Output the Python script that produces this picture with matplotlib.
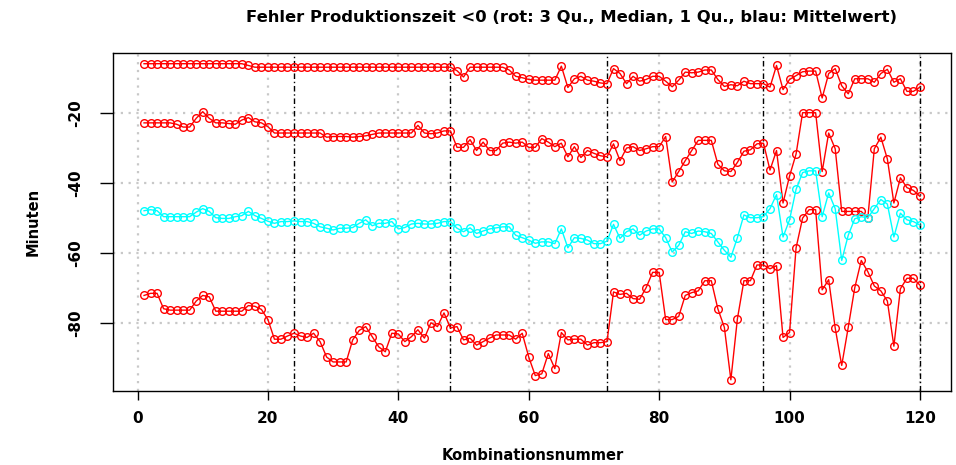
import matplotlib
matplotlib.use("Agg")
import matplotlib.pyplot as plt

# Kombinationsnummer 1..120
kombination = list(range(1, 121))

# 3. Quartil (oberste rote Linie)
q3 = [-6.0] * 16 + [-6.5] + [-7.0] * 31 + [
    -8.0, -9.8, -7.0, -7.0, -7.0, -7.0, -7.0, -7.0, -7.8, -9.6,
    -10.0, -10.5, -10.7, -10.7, -10.7, -10.7, -6.7, -12.8, -10.3, -9.6,
    -10.7, -11.0, -11.5, -11.7, -7.4, -8.8, -11.7, -9.6, -11.0, -10.5,
    -9.6, -9.6, -11.0, -12.6, -10.7, -8.4, -8.6, -8.4, -7.8, -7.8,
    -10.5, -12.5, -12.0, -12.3, -11.0, -11.7, -11.7, -11.7, -12.7, -6.5,
    -13.4, -10.5, -9.4, -8.3, -8.1, -8.1, -15.8, -8.8, -7.4, -12.3,
    -14.6, -10.3, -10.3, -10.3, -11.3, -8.8, -7.6, -11.3, -10.3, -13.9,
    -13.9, -12.7,
]

# Median
median = [
    -22.9, -22.9, -22.9, -22.9, -22.9, -23.3, -24.1, -24.1, -21.6, -19.7,
    -21.6, -22.9, -22.9, -23.1, -23.3, -22.1, -21.4, -22.6, -22.9, -24.0,
    -25.8, -25.8, -25.8, -25.8, -25.8, -25.8, -25.8, -25.8, -27.0, -26.8,
    -26.8, -26.8, -27.0, -26.8, -26.6, -26.2, -25.8, -25.8, -25.8, -25.8,
    -25.8, -25.8, -23.6, -25.8, -26.0, -25.8, -25.2, -25.2, -29.9, -29.9,
    -27.7, -30.8, -28.4, -30.8, -30.8, -28.7, -28.4, -28.7, -28.4, -29.9,
    -29.9, -27.4, -28.4, -29.7, -28.7, -32.6, -29.7, -32.8, -30.8, -31.6,
    -32.3, -32.6, -28.9, -33.7, -30.1, -29.7, -30.8, -30.3, -29.7, -29.7,
    -26.8, -39.8, -36.8, -33.7, -30.8, -27.9, -27.9, -27.9, -34.7, -36.6,
    -36.8, -34.2, -31.0, -30.6, -28.9, -28.7, -36.4, -30.8, -45.8, -38.1,
    -31.8, -20.0, -20.0, -20.0, -36.8, -25.8, -30.3, -48.2, -48.2, -48.2,
    -48.2, -50.1, -30.3, -27.0, -33.2, -45.8, -38.6, -41.4, -42.2, -43.9,
]

# Mittelwert (blau)
mittelwert = [
    -48.0, -47.7, -48.0, -49.7, -49.7, -49.7, -49.7, -49.7, -48.4, -47.4,
    -48.2, -50.0, -50.2, -50.2, -49.7, -49.4, -48.2, -49.4, -50.2, -51.0,
    -51.6, -51.1, -51.1, -50.9, -51.1, -51.1, -51.6, -52.6, -53.0, -53.5,
    -53.0, -53.0, -52.8, -51.6, -50.6, -52.3, -51.6, -51.6, -51.1, -53.2,
    -52.8, -51.8, -51.6, -51.8, -51.8, -51.6, -51.1, -51.1, -53.0, -54.0,
    -52.9, -54.5, -53.8, -53.2, -52.9, -52.6, -52.6, -55.0, -55.7, -56.4,
    -57.3, -56.9, -56.9, -57.4, -53.2, -58.6, -55.7, -55.9, -56.4, -57.4,
    -57.4, -56.7, -51.9, -55.9, -54.0, -53.2, -55.0, -53.8, -53.2, -53.2,
    -55.7, -59.8, -57.9, -54.0, -54.5, -53.8, -54.0, -54.5, -56.9, -59.3,
    -61.3, -55.7, -49.2, -50.0, -50.0, -49.7, -47.4, -43.4, -55.5, -50.6,
    -41.9, -37.1, -36.6, -36.6, -49.7, -42.9, -47.4, -62.2, -55.0, -50.3,
    -49.7, -50.0, -47.4, -44.8, -46.1, -55.5, -48.7, -50.6, -51.1, -52.1,
]

# 1. Quartil (unterste rote Linie)
q1 = [
    -72.2, -71.6, -71.6, -76.0, -76.4, -76.4, -76.4, -76.4, -73.8, -72.2,
    -72.6, -76.7, -76.7, -76.7, -76.7, -76.7, -75.1, -75.3, -76.2, -79.1,
    -84.7, -84.7, -83.8, -83.0, -83.8, -84.2, -83.0, -85.4, -89.8, -91.2,
    -91.2, -91.2, -84.9, -82.2, -81.1, -84.0, -86.9, -88.3, -83.0, -83.2,
    -85.4, -84.0, -82.0, -84.4, -80.0, -81.1, -77.2, -81.5, -81.1, -84.9,
    -84.4, -86.4, -85.4, -84.4, -83.5, -83.5, -83.5, -84.7, -83.0, -89.8,
    -95.1, -94.6, -88.8, -93.1, -82.8, -84.9, -84.7, -84.7, -86.4, -85.7,
    -85.7, -85.4, -71.2, -71.9, -71.6, -73.1, -73.3, -70.0, -65.6, -65.6,
    -79.1, -79.1, -78.2, -72.2, -71.4, -70.9, -68.0, -68.0, -76.0, -81.3,
    -96.3, -78.9, -68.0, -68.0, -63.5, -63.5, -64.6, -63.7, -84.2, -82.8,
    -58.6, -50.1, -47.7, -47.7, -70.6, -67.7, -81.5, -92.2, -81.3, -70.0,
    -62.2, -65.4, -69.5, -70.9, -73.8, -86.7, -70.3, -67.3, -67.3, -69.3,
]

block_grenzen = [24, 48, 72, 96, 120]
x_ticks = [0, 20, 40, 60, 80, 100, 120]
y_ticks = [-20, -40, -60, -80]

plt.rcParams["font.family"] = ["DejaVu Sans"]
plt.rcParams["font.weight"] = "bold"

fig = plt.figure(figsize=(9.56, 4.65), dpi=100)
ax = fig.add_axes([113 / 956, 1 - 391 / 465, 838 / 956, 338 / 465])

# Gitter (grau gepunktet) an den Achsenmarken
for xv in x_ticks:
    ax.axvline(xv, color="#c8c8c8", linestyle=(0, (1, 2.5)), linewidth=1.6, zorder=0)
for yv in y_ticks:
    ax.axhline(yv, color="#c8c8c8", linestyle=(0, (1, 2.5)), linewidth=1.6, zorder=0)

# Blockgrenzen (schwarz strichpunktiert)
for xv in block_grenzen:
    ax.axvline(xv, color="black", linestyle=(0, (4, 2, 1, 2)), linewidth=1.0, zorder=1)

style = dict(marker="o", markersize=5.5, markerfacecolor="none",
             markeredgewidth=1.0, linewidth=1.0, zorder=3)
ax.plot(kombination, q3, color="#ff0000", **style)
ax.plot(kombination, median, color="#ff0000", **style)
ax.plot(kombination, mittelwert, color="#00ffff", **style)
ax.plot(kombination, q1, color="#ff0000", **style)

ax.set_xlim(-3.76, 124.76)
ax.set_ylim(-99.5, -2.94)

ax.set_xticks(x_ticks)
ax.set_yticks(y_ticks)
ax.set_xticklabels([str(v) for v in x_ticks], fontsize=11, fontweight="bold")
ax.set_yticklabels([str(v) for v in y_ticks], fontsize=11, fontweight="bold",
                   rotation=90, va="center")
ax.tick_params(axis="x", length=6.5, width=1.0, pad=8)
ax.tick_params(axis="y", length=9.5, width=1.0, pad=12)

for sp in ax.spines.values():
    sp.set_linewidth(1.0)

fig.text(533 / 956, 1 - 455 / 465, "Kombinationsnummer", ha="center", va="center",
         fontsize=10.5, fontweight="bold")
fig.text(33 / 956, 1 - 222 / 465, "Minuten", ha="center", va="center",
         rotation=90, fontsize=10.5, fontweight="bold")
fig.text(572 / 956, 1 - 17 / 465,
         "Fehler Produktionszeit <0 (rot: 3 Qu., Median, 1 Qu., blau: Mittelwert)",
         ha="center", va="center", fontsize=11.8, fontweight="bold")

fig.savefig("out.png", dpi=100, facecolor="white")
